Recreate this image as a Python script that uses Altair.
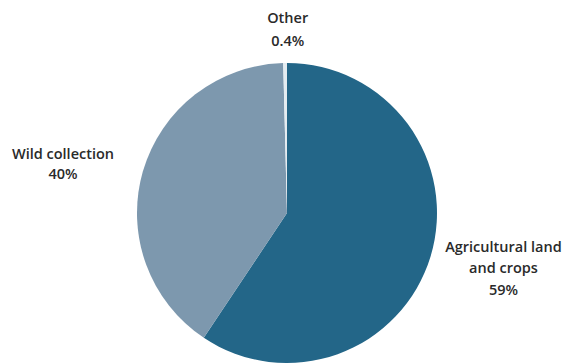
import altair as alt
import pandas as pd

categories = ["Agricultural land and crops", "Wild collection", "Other"]
shares = [59, 40, 0.4]
name_lines = [["Agricultural land", "and crops"], ["Wild collection"], ["Other"]]
pct_labels = ["59%", "40%", "0.4%"]
colors = ["#236688", "#7d98ae", "#e4ecf1"]

df = pd.DataFrame({
    "cat": categories,
    "share": shares,
    "order": list(range(len(categories))),
    "label": ["\n".join(n + [p]) for n, p in zip(name_lines, pct_labels)],
})

base = alt.Chart(df).encode(
    theta=alt.Theta("share:Q", stack=True),
    order=alt.Order("order:Q"),
)

pie = base.mark_arc(radius=150, stroke=None).encode(
    color=alt.Color("cat:N", scale=alt.Scale(domain=categories, range=colors), legend=None)
)

def label_layer(cat, radius, dx, dy, lh):
    return base.transform_calculate(
        lbl=f"datum.cat == '{cat}' ? datum.label : ''"
    ).mark_text(
        radius=radius, dx=dx, dy=dy, font="Open Sans", fontSize=14.5, fontWeight=600,
        color="#2a2a2a", lineBreak="\n", lineHeight=lh, align="center", baseline="middle"
    ).encode(text="lbl:N")

chart = alt.layer(
    pie,
    label_layer(categories[0], 223, 3, -30, 21.5),
    label_layer(categories[1], 229, -4, 6, 20),
    label_layer(categories[2], 185, 3, -9, 23),
).properties(
    width=574, height=302,
    padding={"left": 0, "top": 62, "right": 0, "bottom": 0},
    autosize="none",
    background="white",
).configure_view(stroke=None)

chart.save("out.html", embed_options={"renderer": "svg", "actions": False})
